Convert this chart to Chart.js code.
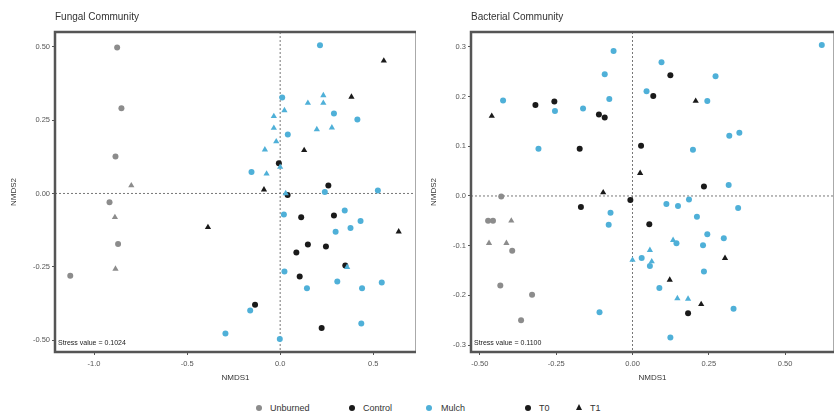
<!DOCTYPE html>
<html>
<head>
<meta charset="utf-8">
<script src="https://cdn.jsdelivr.net/npm/chart.js@4"></script>
<style>
  body { margin: 0; background: #fff; font-family: "Liberation Sans", Arial, sans-serif; }
  #wrap { position: relative; width: 838px; height: 417px; }
  canvas { position: absolute; top: 0; }
  #legend { position: absolute; top: 401px; left: 0; width: 838px; height: 14px; font-size: 9px; color: #333; }
  .li { position: absolute; top: 0; line-height: 14px; }
  .dot { position: absolute; top: 4px; width: 6px; height: 6px; border-radius: 50%; }
  .tri { position: absolute; top: 3px; width: 0; height: 0; border-left: 3.5px solid transparent; border-right: 3.5px solid transparent; border-bottom: 6px solid #1a1a1a; }
</style>
</head>
<body>
<div id="wrap">
  <canvas id="fungal" width="420" height="384" style="left:0"></canvas>
  <canvas id="bacterial" width="418" height="384" style="left:420px"></canvas>
  <div id="legend">
    <span class="dot" style="left:256px;background:#8c8c8c"></span><span class="li" style="left:270px">Unburned</span>
    <span class="dot" style="left:349px;background:#1a1a1a"></span><span class="li" style="left:363px">Control</span>
    <span class="dot" style="left:426px;background:#4fb0d8"></span><span class="li" style="left:441px">Mulch</span>
    <span class="dot" style="left:525px;background:#1a1a1a"></span><span class="li" style="left:539px">T0</span>
    <span class="tri" style="left:576px"></span><span class="li" style="left:590px">T1</span>
  </div>
</div>
<script>
// colours per treatment
const colUnburned = "#8c8c8c";
const colControl = "#1a1a1a";
const colMulch = "#4fb0d8";

// ---- Fungal community (NMDS1, NMDS2) ----
const fungalUnburnedT0 = [[-0.876,0.497],[-0.853,0.29],[-0.885,0.126],[-0.917,-0.03],[-0.871,-0.172],[-1.128,-0.28]];
const fungalUnburnedT1 = [[-0.8,0.027],[-0.888,-0.081],[-0.885,-0.257]];
const fungalControlT0 = [[0.259,0.027],[0.04,-0.005],[-0.007,0.103],[0.113,-0.081],[0.289,-0.075],[0.149,-0.174],[0.246,-0.181],[0.087,-0.201],[0.105,-0.283],[0.35,-0.245],[-0.135,-0.379],[0.223,-0.458]];
const fungalControlT1 = [[0.557,0.452],[0.383,0.329],[0.129,0.147],[-0.087,0.013],[-0.388,-0.115],[0.637,-0.13]];
const fungalMulchT0 = [[0.011,0.327],[0.041,0.201],[-0.154,0.073],[0.525,0.01],[0.24,0.005],[0.02,-0.072],[0.347,-0.058],[0.432,-0.094],[0.298,-0.13],[0.378,-0.118],[0.023,-0.266],[0.144,-0.323],[0.307,-0.3],[0.44,-0.323],[0.546,-0.303],[-0.161,-0.399],[0.436,-0.443],[-0.002,-0.496],[-0.294,-0.477],[0.415,0.252],[0.289,0.272],[0.214,0.505]];
const fungalMulchT1 = [[0.149,0.308],[0.232,0.334],[0.232,0.308],[0.023,0.283],[-0.034,0.263],[-0.034,0.223],[0.197,0.218],[0.278,0.224],[-0.021,0.177],[-0.082,0.149],[-0.073,0.067],[0.03,0.0],[0.36,-0.251],[0.0,0.09]];
const fungalXTicks = [-1.0, -0.5, 0.0, 0.5];
const fungalYTicks = [-0.5, -0.25, 0.0, 0.25, 0.5];
const fungalStress = "Stress value = 0.1024";

// ---- Bacterial community ----
const bactUnburnedT0 = [[-0.43,-0.001],[-0.473,-0.05],[-0.457,-0.05],[-0.394,-0.11],[-0.433,-0.18],[-0.329,-0.199],[-0.365,-0.25]];
const bactUnburnedT1 = [[-0.397,-0.05],[-0.47,-0.095],[-0.413,-0.095]];
const bactControlT0 = [[-0.318,0.183],[-0.256,0.19],[-0.11,0.164],[-0.091,0.158],[-0.173,0.095],[-0.007,-0.008],[-0.169,-0.022],[0.124,0.243],[0.068,0.201],[0.028,0.101],[0.234,0.019],[0.055,-0.057],[0.182,-0.236]];
const bactControlT1 = [[-0.461,0.161],[-0.096,0.007],[0.207,0.191],[0.025,0.046],[0.303,-0.125],[0.122,-0.169],[0.225,-0.218]];
const bactMulchT0 = [[-0.062,0.292],[-0.091,0.245],[-0.076,0.195],[-0.424,0.192],[-0.254,0.171],[-0.162,0.176],[-0.308,0.095],[-0.072,-0.034],[-0.078,-0.058],[-0.108,-0.234],[0.62,0.304],[0.095,0.269],[0.272,0.241],[0.046,0.211],[0.245,0.191],[0.317,0.121],[0.35,0.127],[0.198,0.093],[0.315,0.022],[0.111,-0.016],[0.149,-0.02],[0.185,-0.007],[0.346,-0.024],[0.211,-0.042],[0.245,-0.077],[0.299,-0.085],[0.144,-0.095],[0.231,-0.099],[0.03,-0.125],[0.057,-0.141],[0.234,-0.152],[0.088,-0.185],[0.331,-0.227],[0.124,-0.285]];
const bactMulchT1 = [[0.0,-0.129],[0.133,-0.089],[0.057,-0.109],[0.063,-0.132],[0.147,-0.206],[0.182,-0.207]];
const bactXTicks = [-0.5, -0.25, 0.0, 0.25, 0.5];
const bactYTicks = [-0.3, -0.2, -0.1, 0.0, 0.1, 0.2, 0.3];
const bactStress = "Stress value = 0.1100";

function pts(arr) {
  return arr.map((p) => ({ x: p[0], y: p[1] }));
}

function ds(arr, color, shape) {
  return {
    data: pts(arr),
    backgroundColor: color,
    borderColor: color,
    borderWidth: 0,
    pointStyle: shape,
    pointRadius: shape === "triangle" ? 3.6 : 3,
  };
}

// dotted zero lines, frame, panel title, stress label
const decor = {
  id: "decor",
  beforeDatasetsDraw(chart, args, opts) {
    const { ctx, chartArea: a, scales } = chart;
    const x0 = scales.x.getPixelForValue(0);
    const y0 = scales.y.getPixelForValue(0);
    ctx.save();
    ctx.strokeStyle = "#777";
    ctx.lineWidth = 1;
    ctx.setLineDash([2, 2]);
    ctx.beginPath();
    ctx.moveTo(x0, a.top);
    ctx.lineTo(x0, a.bottom);
    ctx.moveTo(a.left, y0);
    ctx.lineTo(a.right, y0);
    ctx.stroke();
    ctx.restore();
  },
  afterDraw(chart, args, opts) {
    const { ctx, chartArea: a } = chart;
    ctx.save();
    ctx.strokeStyle = "#aaa";
    ctx.lineWidth = 1;
    ctx.beginPath();
    ctx.moveTo(a.right - 0.5, a.top);
    ctx.lineTo(a.right - 0.5, a.bottom);
    ctx.stroke();
    ctx.strokeStyle = "#555";
    ctx.lineWidth = 2.5;
    ctx.beginPath();
    ctx.moveTo(a.right, a.top);
    ctx.lineTo(a.left, a.top);
    ctx.lineTo(a.left, a.bottom);
    ctx.lineTo(a.right, a.bottom);
    ctx.stroke();
    ctx.fillStyle = "#333";
    ctx.font = "10px 'Liberation Sans', Arial, sans-serif";
    ctx.textBaseline = "middle";
    ctx.fillText(opts.title, a.left, 17);
    ctx.fillStyle = "#222";
    ctx.font = "7px 'Liberation Sans', Arial, sans-serif";
    ctx.fillText(opts.stress, a.left + 3, a.bottom - 9);
    ctx.restore();
  },
};

function makeChart(id, sets, xMin, xMax, xTicks, xDec, yMin, yMax, yTicks, yDec, yWidth, title, stress) {
  const tickFont = { size: 7.5, family: "'Liberation Sans', Arial, sans-serif" };
  return new Chart(document.getElementById(id), {
    type: "scatter",
    data: { datasets: sets },
    options: {
      responsive: false,
      animation: false,
      layout: { padding: { top: 32, right: 1, left: 0, bottom: 0 } },
      plugins: {
        legend: { display: false },
        tooltip: { enabled: false },
        decor: { title: title, stress: stress },
      },
      scales: {
        x: {
          type: "linear",
          min: xMin,
          max: xMax,
          afterBuildTicks: (s) => { s.ticks = xTicks.map((v) => ({ value: v })); },
          afterFit: (s) => { s.height = 32; },
          ticks: { color: "#555", font: tickFont, padding: 4, callback: (v) => v.toFixed(xDec) },
          grid: { drawOnChartArea: false, drawTicks: true, tickLength: 3, color: "#555" },
          border: { display: false },
          title: { display: true, text: "NMDS1", color: "#333", font: { size: 8 }, padding: { top: 2, bottom: 1 } },
        },
        y: {
          type: "linear",
          min: yMin,
          max: yMax,
          afterBuildTicks: (s) => { s.ticks = yTicks.map((v) => ({ value: v })); },
          afterFit: (s) => { s.width = yWidth; },
          ticks: { color: "#555", font: tickFont, padding: 2, callback: (v) => v.toFixed(yDec) },
          grid: { drawOnChartArea: false, drawTicks: true, tickLength: 3, color: "#555" },
          border: { display: false },
          title: { display: true, text: "NMDS2", color: "#333", font: { size: 8 }, padding: { top: 9, bottom: 4 } },
        },
      },
    },
    plugins: [decor],
  });
}

makeChart("fungal", [
  ds(fungalUnburnedT0, colUnburned, "circle"),
  ds(fungalUnburnedT1, colUnburned, "triangle"),
  ds(fungalMulchT0, colMulch, "circle"),
  ds(fungalMulchT1, colMulch, "triangle"),
  ds(fungalControlT0, colControl, "circle"),
  ds(fungalControlT1, colControl, "triangle"),
], -1.21, 0.73, fungalXTicks, 1, -0.54, 0.55, fungalYTicks, 2, 55, "Fungal Community", fungalStress);

makeChart("bacterial", [
  ds(bactUnburnedT0, colUnburned, "circle"),
  ds(bactUnburnedT1, colUnburned, "triangle"),
  ds(bactMulchT0, colMulch, "circle"),
  ds(bactMulchT1, colMulch, "triangle"),
  ds(bactControlT0, colControl, "circle"),
  ds(bactControlT1, colControl, "triangle"),
], -0.529, 0.66, bactXTicks, 2, -0.314, 0.33, bactYTicks, 1, 51, "Bacterial Community", bactStress);
</script>
</body>
</html>
